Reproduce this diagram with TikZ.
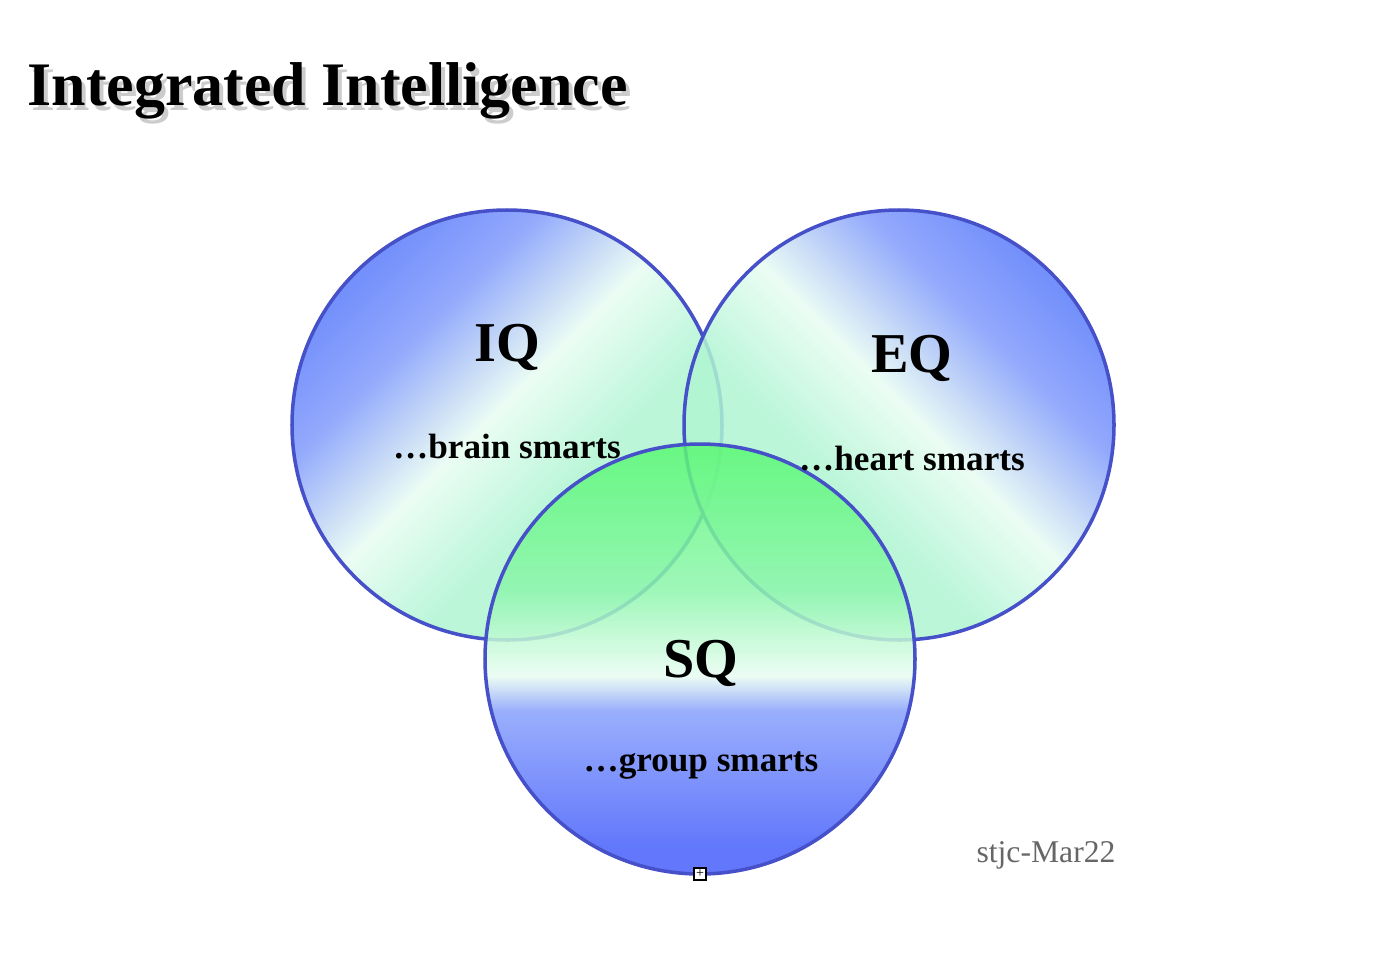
\documentclass[tikz,border=0pt]{standalone}
\usepackage{fontspec}
\setmainfont{Liberation Serif}
\definecolor{deepblue}{RGB}{85,120,250}
\definecolor{palegreen}{RGB}{232,252,242}
\definecolor{softgreen}{RGB}{175,245,210}
\definecolor{brightgreen}{RGB}{90,248,115}
\definecolor{lowblue}{RGB}{70,95,250}
\definecolor{rimblue}{RGB}{70,80,200}
\pgfdeclareverticalshading{bandtop}{100bp}{color(0bp)=(softgreen); color(40bp)=(softgreen); color(52bp)=(palegreen); color(65bp)=(deepblue!75!white); color(76bp)=(deepblue); color(100bp)=(deepblue)}
\pgfdeclareverticalshading{bandlow}{100bp}{color(0bp)=(lowblue); color(28bp)=(lowblue); color(44bp)=(deepblue!70!white); color(48bp)=(palegreen); color(58bp)=(softgreen!60!brightgreen); color(75bp)=(brightgreen); color(100bp)=(brightgreen)}
\begin{document}
\begin{tikzpicture}[x=0.01cm,y=-0.01cm,
    ring/.style={draw=rimblue,line width=1pt,fill opacity=0.85},
    head/.style={font=\bfseries\fontsize{16}{19}\selectfont},
    tag/.style={font=\bfseries\fontsize{10}{12}\selectfont},
    banner/.style={anchor=west,inner sep=0pt,font=\bfseries\fontsize{17.6}{21}\selectfont}]
  \useasboundingbox (0,0) rectangle (1400,954);
  % circles
  \shade[ring,shading=bandtop,shading angle=45] (507,425) circle (215);
  \shade[ring,shading=bandtop,shading angle=-45] (899,425) circle (215);
  \shade[ring,shading=bandlow] (700,659) circle (215);
  % labels
  \node[head] (iq) at (507,347) {IQ};
  \node[tag] (iqt) at (507,447) {\dots brain smarts};
  \node[head] (eq) at (912,358) {EQ};
  \node[tag] (eqt) at (912,459) {\dots heart smarts};
  \node[head] (sq) at (701,663) {SQ};
  \node[tag] (sqt) at (701,765) {\dots group smarts};
  \node[text=black!60,font=\fontsize{9}{11}\selectfont] (sign) at (1046,855) {stjc-Mar22};
  % title with shadow
  \node[banner,text=black!20] at (31,96) {Integrated Intelligence};
  \node[banner] (title) at (27,91) {Integrated Intelligence};
  % handle
  \node[draw,fill=white,inner sep=0pt,minimum size=0.12cm,font=\fontsize{4}{4}\selectfont] (grip) at (700,874) {+};
\end{tikzpicture}
\end{document}
